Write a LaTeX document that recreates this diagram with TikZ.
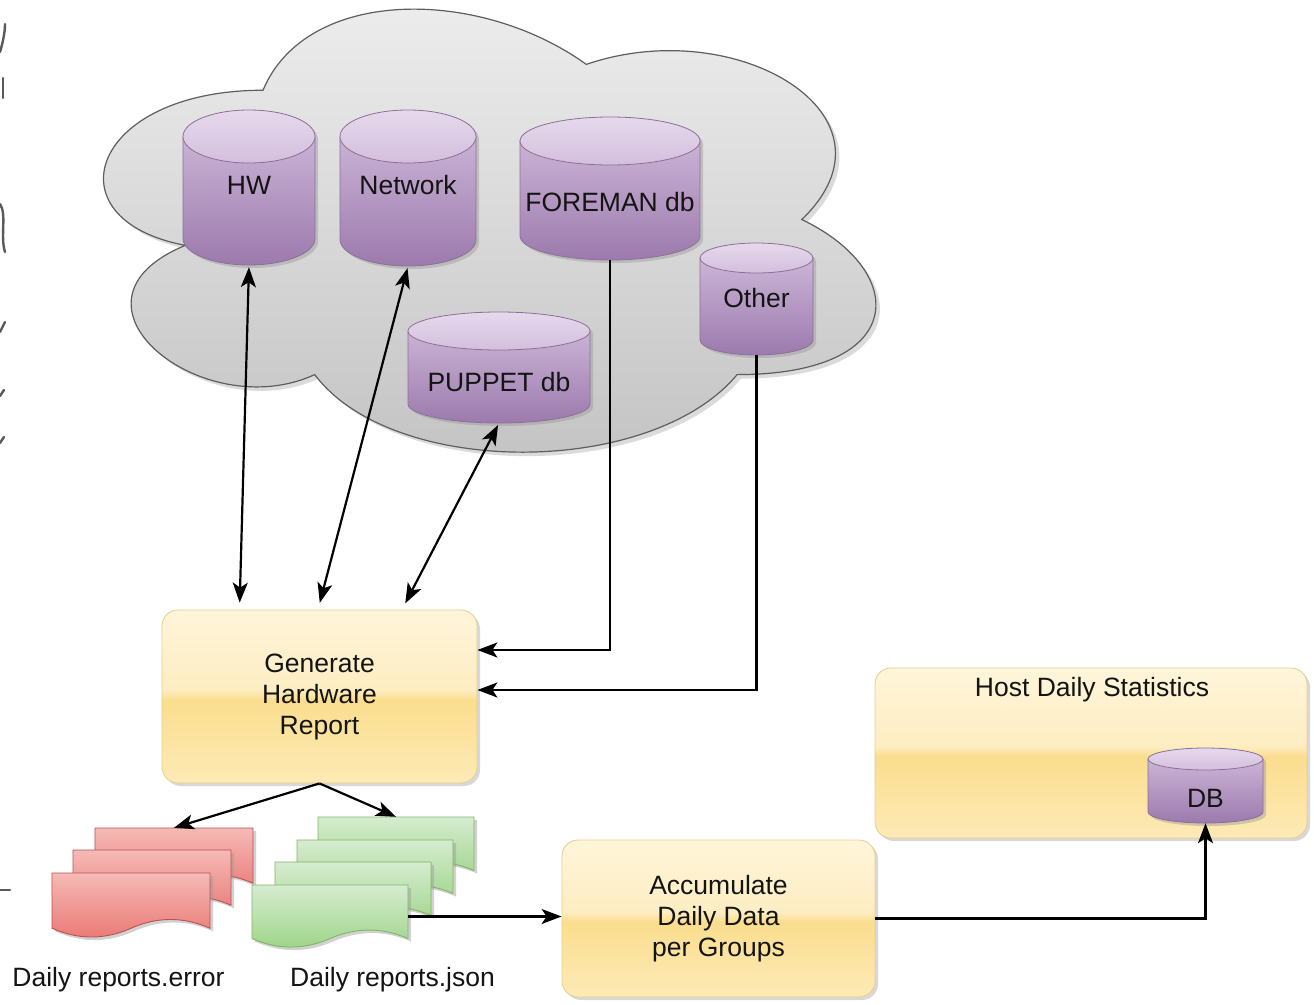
\documentclass[tikz,border=0pt]{standalone}
\usepackage{fontspec}
\setmainfont{Liberation Sans}
\usetikzlibrary{arrows.meta,shadows,calc}

\definecolor{txt}{HTML}{141414}
\definecolor{cloudtop}{HTML}{EEEEEE}
\definecolor{cloudbot}{HTML}{C2C2C2}
\definecolor{cloudline}{HTML}{5E5E5E}
\definecolor{cyltop}{HTML}{E6D9EC}
\definecolor{cylmid}{HTML}{D3BFDD}
\definecolor{cylbot}{HTML}{9C7AAD}
\definecolor{cylline}{HTML}{8C7097}
\definecolor{redtop}{HTML}{F5BAB7}
\definecolor{redbot}{HTML}{EA7874}
\definecolor{redline}{HTML}{B85450}
\definecolor{greentop}{HTML}{D6ECD0}
\definecolor{greenbot}{HTML}{9DD488}
\definecolor{greenline}{HTML}{82B366}
\definecolor{ytop}{HTML}{FEF5DA}
\definecolor{yup}{HTML}{FDEDC2}
\definecolor{yband}{HTML}{FADD8E}
\definecolor{ybot}{HTML}{FDEAB6}
\definecolor{yline}{HTML}{E6CF8C}
\definecolor{shadowc}{HTML}{9A9A9A}
\definecolor{artc}{HTML}{5A5A5A}

\pgfdeclareverticalshading{glassy}{100bp}{color(0bp)=(ybot); color(25bp)=(ybot); color(49bp)=(yband); color(52bp)=(yup); color(75bp)=(ytop); color(100bp)=(ytop)}

\newcommand\fsz{\fontsize{26.5}{31}\selectfont}

\tikzset{
  procbox/.style={rectangle, rounded corners=16pt, draw=yline, line width=0.8pt,
    shading=glassy, drop shadow={shadow xshift=3pt, shadow yshift=-3pt, opacity=0.3},
    inner sep=0pt, align=center, text=txt, font=\fsz},
  lbl/.style={inner sep=0pt, text=txt, font=\fsz, align=center},
  conn/.style={line width=2.2pt, draw=black},
  anchorbox/.style={inner sep=0pt, draw=none, fill=none},
  artstroke/.style={draw=artc, line width=2.4pt, line cap=round}
}

% cylinder: name, xl, xr, ytop, ybottom, ry  (pixel coordinates, y downward)
\newcommand\dbcyl[6]{%
  \pgfmathsetmacro\qcx{(#2+#3)/2}%
  \pgfmathsetmacro\qrx{(#3-#2)/2}%
  \pgfmathsetmacro\qyt{-(#4)-(#6)}%
  \pgfmathsetmacro\qyb{-(#5)+(#6)}%
  \pgfmathsetmacro\qym{-(#4+#5)/2}%
  \pgfmathsetmacro\qw{#3-#2}%
  \pgfmathsetmacro\qh{#5-#4}%
  \fill[shadowc, opacity=0.45, shift={(3,-3)}] (\qcx-\qrx,\qyt) -- (\qcx-\qrx,\qyb) arc[start angle=180,end angle=360,x radius=\qrx,y radius=#6] -- (\qcx+\qrx,\qyt) arc[start angle=0,end angle=180,x radius=\qrx,y radius=#6] -- cycle;
  \shade[top color=cylmid, bottom color=cylbot] (\qcx-\qrx,\qyt) -- (\qcx-\qrx,\qyb) arc[start angle=180,end angle=360,x radius=\qrx,y radius=#6] -- (\qcx+\qrx,\qyt) arc[start angle=0,end angle=180,x radius=\qrx,y radius=#6] -- cycle;
  \draw[cylline, line width=0.8pt] (\qcx-\qrx,\qyt) -- (\qcx-\qrx,\qyb) arc[start angle=180,end angle=360,x radius=\qrx,y radius=#6] -- (\qcx+\qrx,\qyt);
  \shade[top color=cyltop, bottom color=cylmid] (\qcx,\qyt) ellipse[x radius=\qrx, y radius=#6];
  \draw[cylline, line width=0.8pt] (\qcx,\qyt) ellipse[x radius=\qrx, y radius=#6];
  \node[anchorbox, minimum width=\qw pt, minimum height=\qh pt] (#1) at (\qcx,\qym) {};
}

% document: name, x, y (top-left, pixel coords), w, h, top colour, bottom colour, line colour
\newcommand\docshape[8]{%
  \fill[shadowc, opacity=0.45, shift={(3,-3)}] (#2,-#3) -- (#2+#4,-#3) -- (#2+#4,-#3-0.85*#5)
     .. controls (#2+0.8333*#4,-#3-0.67*#5) and (#2+0.6667*#4,-#3-0.67*#5) .. (#2+0.5*#4,-#3-0.85*#5)
     .. controls (#2+0.3333*#4,-#3-1.03*#5) and (#2+0.1667*#4,-#3-1.03*#5) .. (#2,-#3-0.85*#5) -- cycle;
  \shade[top color=#6, bottom color=#7, draw=#8, line width=0.9pt] (#2,-#3) -- (#2+#4,-#3) -- (#2+#4,-#3-0.85*#5)
     .. controls (#2+0.8333*#4,-#3-0.67*#5) and (#2+0.6667*#4,-#3-0.67*#5) .. (#2+0.5*#4,-#3-0.85*#5)
     .. controls (#2+0.3333*#4,-#3-1.03*#5) and (#2+0.1667*#4,-#3-1.03*#5) .. (#2,-#3-0.85*#5) -- cycle;
  \node[anchorbox, minimum width=#4 pt, minimum height=#5 pt] (#1) at (#2+0.5*#4,-#3-0.5*#5) {};
}

\begin{document}
\begin{tikzpicture}[x=1pt, y=1pt, >={Stealth[length=20pt,width=15pt,inset=5pt]}]
\useasboundingbox (0,0) rectangle (1314,-1004);
\fill[white] (0,0) rectangle (1314,-1004);

% fragments at the left edge
\draw[artstroke] (0,-52) .. controls (3,-42) and (5,-32) .. (5,-24);
\draw[artstroke] (3,-78) -- (3,-98);
\draw[artstroke] (0,-204) .. controls (7,-214) and (0,-236) .. (5,-252);
\draw[artstroke] (5,-322) -- (0,-332);
\draw[artstroke] (4,-390) -- (0,-396);
\draw[artstroke] (4,-437) -- (0,-443);
\draw[artstroke] (0,-890) -- (10,-890);

% cloud
\fill[shadowc, opacity=0.35, shift={(4,-4)}] (263,-90.25)
  .. controls (90.6,-90.25) and (47.5,-219.5) .. (185.4,-245.35)
  .. controls (47.5,-302.2) and (202.7,-426.3) .. (314.7,-374.6)
  .. controls (392.3,-478) and (650.9,-478) .. (737.1,-374.6)
  .. controls (909.5,-374.6) and (909.5,-271.2) .. (801.8,-219.5)
  .. controls (909.5,-116.1) and (737.1,-12.7) .. (586.3,-64.4)
  .. controls (478.5,13.15) and (306.1,13.15) .. (263,-90.25) -- cycle;
\shade[top color=cloudtop, bottom color=cloudbot, draw=cloudline, line width=1.2pt] (263,-90.25)
  .. controls (90.6,-90.25) and (47.5,-219.5) .. (185.4,-245.35)
  .. controls (47.5,-302.2) and (202.7,-426.3) .. (314.7,-374.6)
  .. controls (392.3,-478) and (650.9,-478) .. (737.1,-374.6)
  .. controls (909.5,-374.6) and (909.5,-271.2) .. (801.8,-219.5)
  .. controls (909.5,-116.1) and (737.1,-12.7) .. (586.3,-64.4)
  .. controls (478.5,13.15) and (306.1,13.15) .. (263,-90.25) -- cycle;

% databases
\dbcyl{hw}{183}{315}{110}{265}{26.5}
\node[lbl] (hwl) at (249,-185) {HW};
\dbcyl{net}{340}{476}{110}{266}{26.5}
\node[lbl] (netl) at (408,-185) {Network};
\dbcyl{fore}{520}{700}{117}{260}{24}
\node[lbl] (forel) at (610,-202) {FOREMAN db};
\dbcyl{oth}{700}{813}{243}{355}{15}
\node[lbl] (othl) at (756.5,-298) {Other};
\dbcyl{pup}{408}{590}{312}{423}{19}
\node[lbl] (pupl) at (499,-382) {PUPPET db};

% process boxes
\node[procbox, minimum width=315pt, minimum height=173pt] (gen) at (319.5,-696.5) {Generate\\Hardware\\Report};
\node[procbox, minimum width=432pt, minimum height=170pt] (host) at (1091,-753) {};
\node[lbl] (hostl) at (1092,-690) {Host Daily Statistics};
\dbcyl{db}{1148}{1263}{748}{823}{11}
\node[lbl] (dbl) at (1205.5,-798) {DB};
\node[procbox, minimum width=313pt, minimum height=157pt] (acc) at (718.5,-918.5) {Accumulate\\Daily Data\\per Groups};

% report documents
\docshape{redC}{95}{828}{158}{65}{redtop}{redbot}{redline}
\docshape{redB}{73}{850}{158}{65}{redtop}{redbot}{redline}
\docshape{redA}{52}{873}{158}{65}{redtop}{redbot}{redline}
\docshape{grnD}{318}{817}{156}{63}{greentop}{greenbot}{greenline}
\docshape{grnC}{297}{840}{156}{63}{greentop}{greenbot}{greenline}
\docshape{grnB}{275}{862}{156}{63}{greentop}{greenbot}{greenline}
\docshape{grnA}{252}{885}{156}{63}{greentop}{greenbot}{greenline}
\node[lbl] (errl) at (118.5,-980) {Daily reports.error};
\node[lbl] (jsonl) at (392.5,-980) {Daily reports.json};

% connectors
\draw[conn,<->,shorten <=2pt,shorten >=7pt] (hw.south) -- ([xshift=-80pt]gen.north);
\draw[conn,<->,shorten <=2pt,shorten >=7pt] (net.south) -- ([xshift=-1.5pt]gen.north);
\draw[conn,<->,shorten <=2pt,shorten >=7pt] (pup.south) -- ([xshift=82.5pt]gen.north);
\draw[conn,->] (fore.south) |- ([yshift=46.5pt]gen.east);
\draw[conn,->] (oth.south) |- ([yshift=6.5pt]gen.east);
\draw[conn,->] (gen.south) -- (redC.north);
\draw[conn,->] (gen.south) -- (grnD.north);
\draw[conn,->] (grnA.east) -- (grnA.east -| acc.west);
\draw[conn,->] (acc.east) -| (db.south);
\end{tikzpicture}
\end{document}
